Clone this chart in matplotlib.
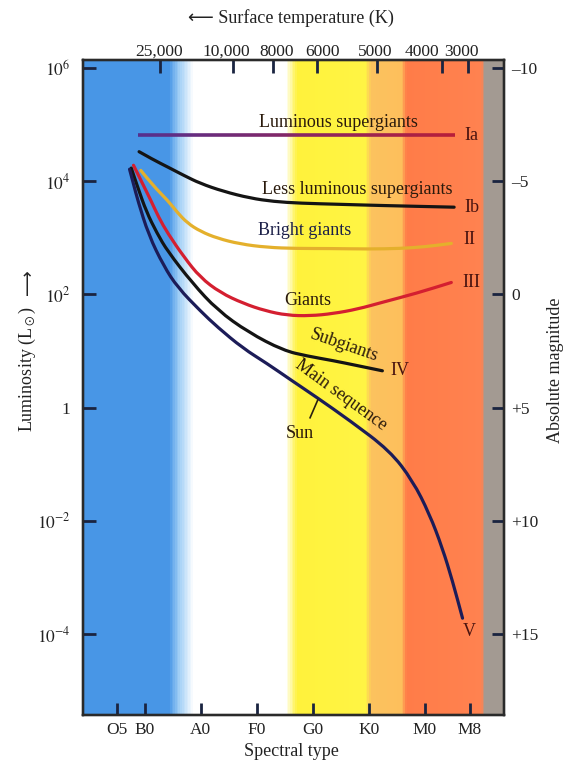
import numpy as np
import matplotlib.pyplot as plt
from matplotlib.colors import LinearSegmentedColormap, to_rgb
from matplotlib.collections import LineCollection
from matplotlib.patches import PathPatch
from matplotlib.path import Path
from matplotlib.ticker import NullLocator

plt.rcParams['font.family'] = ['Liberation Serif', 'DejaVu Sans']
plt.rcParams['mathtext.fontset'] = 'stix'

# spectral type axis: B0=1, A0=2, ... M0=6
spec_pos = [0.5, 1, 2, 3, 4, 5, 6, 6.8]
spec_labels = ['O5', 'B0', 'A0', 'F0', 'G0', 'K0', 'M0', 'M8']
temp_pos = [1.27, 2.58, 3.28, 4.08, 5.15, 6.31, 6.76]
temp_label_pos = [1.25, 2.46, 3.35, 4.18, 5.12, 5.94, 6.65]
temp_labels = ['25,000', '10,000', '8000', '6000', '5000', '4000', '3000']

lum_ticks = [1e6, 1e4, 1e2, 1, 1e-2, 1e-4]
lum_labels = ['$10^6$', '$10^4$', '$10^2$', '1', '$10^{-2}$', '$10^{-4}$']
mag_ticks = [-10, -5, 0, 5, 10, 15]
mag_labels = ['\u201310', '\u20135', '0', '+5', '+10', '+15']

# background colour stops along the spectral axis
band_x = [-0.1, 1.43, 1.62, 1.87, 3.52, 3.72, 4.95, 5.04, 5.60, 5.68, 7.02, 7.08, 7.41]
band_colors = ['#4896e6', '#4896e6', '#a6d2f6', '#ffffff', '#ffffff', '#fff23c',
               '#fff444', '#fcc25e', '#fdbf5c', '#ff7c48', '#ff8250', '#a39a92', '#a39a92']

# luminosity classes (x = spectral position, y = log10 L)
ia_x = [0.88, 6.53]
ia_logL = [4.82, 4.82]
ib_x = [0.90, 1.15, 1.41, 1.70, 1.99, 2.40, 2.88, 3.30, 3.77, 4.5, 5.19, 6.52]
ib_logL = [4.52, 4.38, 4.25, 4.10, 3.96, 3.82, 3.70, 3.64, 3.61, 3.59, 3.57, 3.54]
ii_x = [0.93, 1.15, 1.41, 1.58, 1.76, 2.0, 2.30, 2.7, 3.18, 3.7, 4.30, 5.0, 5.55, 6.0, 6.47]
ii_logL = [4.19, 3.92, 3.66, 3.45, 3.26, 3.11, 2.99, 2.89, 2.83, 2.81, 2.81, 2.80, 2.81, 2.84, 2.90]
iii_x = [0.80, 0.95, 1.11, 1.25, 1.41, 1.70, 1.99, 2.35, 2.76, 3.15, 3.54, 3.95, 4.36, 4.8, 5.24, 5.85, 6.47]
iii_logL = [4.28, 3.98, 3.66, 3.36, 3.08, 2.66, 2.30, 2.03, 1.84, 1.71, 1.63, 1.62, 1.66, 1.74, 1.86, 2.02, 2.21]
iv_x = [0.76, 0.88, 1.03, 1.22, 1.41, 1.85, 2.30, 2.85, 3.47, 3.9, 4.36, 4.8, 5.24]
iv_logL = [4.23, 3.88, 3.46, 3.08, 2.76, 2.20, 1.72, 1.33, 1.01, 0.91, 0.83, 0.74, 0.65]
v_x = [0.73, 0.80, 0.88, 1.07, 1.34, 1.59, 2.0, 2.30, 2.75, 3.18, 3.62, 4.07, 4.66, 5.37,
       5.78, 6.08, 6.31, 6.49, 6.67]
v_logL = [4.21, 3.95, 3.65, 3.05, 2.50, 2.12, 1.70, 1.42, 1.05, 0.78, 0.48, 0.18, -0.23, -0.76,
          -1.29, -1.88, -2.48, -3.06, -3.72]
sun_x = [4.09, 3.95]
sun_logL = [0.14, -0.18]

xmin, xmax = -0.1, 7.41
lmin, lmax = -5.43, 6.14


def smooth_curve(ax, xs, logs, color, lw, z=3):
    # quadratic Bezier through the midpoints, read points act as control points
    verts = [(xs[0], 10**logs[0])]
    codes = [Path.MOVETO]
    for i in range(1, len(xs) - 1):
        mx = (xs[i] + xs[i + 1]) / 2
        ml = (logs[i] + logs[i + 1]) / 2
        verts += [(xs[i], 10**logs[i]), (mx, 10**ml)]
        codes += [Path.CURVE3, Path.CURVE3]
    verts.append((xs[-1], 10**logs[-1]))
    codes.append(Path.LINETO)
    ax.add_patch(PathPatch(Path(verts, codes), fill=False, edgecolor=color, lw=lw,
                           capstyle='round', joinstyle='round', zorder=z))


fig = plt.figure(figsize=(5.79, 7.68), dpi=100)
ax = fig.add_axes([0.1434, 0.069, 0.7271, 0.8529])
ax.set_yscale('log')
ax.set_xlim(xmin, xmax)
ax.set_ylim(10**lmin, 10**lmax)

# coloured background
stops = [(v - xmin) / (xmax - xmin) for v in band_x]
cmap = LinearSegmentedColormap.from_list('bands', list(zip(stops, band_colors)))
edges = np.linspace(xmin, xmax, 700)
mid = (edges[:-1] + edges[1:]) / 2
ax.pcolormesh(edges, [10**lmin, 10**lmax], mid[None, :], cmap=cmap,
              vmin=xmin, vmax=xmax, shading='flat', zorder=0)

# Ia line with purple-to-red gradient
seg_x = np.linspace(ia_x[0], ia_x[1], 60)
pts = np.column_stack([seg_x, np.full_like(seg_x, 10**ia_logL[0])])
segs = np.stack([pts[:-1], pts[1:]], axis=1)
c0, c1 = np.array(to_rgb('#55308e')), np.array(to_rgb('#b81e3a'))
t = np.linspace(0, 1, len(segs))[:, None]
ax.add_collection(LineCollection(segs, colors=c0 * (1 - t) + c1 * t, linewidths=2.6, zorder=3))

lw = 2.3
smooth_curve(ax, ib_x, ib_logL, '#141414', lw)
smooth_curve(ax, ii_x, ii_logL, '#e4b02c', lw)
smooth_curve(ax, iii_x, iii_logL, '#d41f30', lw)
smooth_curve(ax, iv_x, iv_logL, '#141414', lw)
smooth_curve(ax, v_x, v_logL, '#1c1c58', lw, z=4)
ax.plot(sun_x, 10**np.array(sun_logL), color='#2a2010', lw=1.2, zorder=4)

tc = '#2a1a0c'
fs = 13
ax.text(4.46, 10**5.03, 'Luminous supergiants', fontsize=fs, color=tc, ha='center', va='center')
ax.text(4.79, 10**3.86, 'Less luminous supergiants', fontsize=fs, color=tc, ha='center', va='center')
ax.text(3.86, 10**3.12, 'Bright giants', fontsize=fs, color='#1c2048', ha='center', va='center')
ax.text(3.90, 10**1.90, 'Giants', fontsize=fs, color=tc, ha='center', va='center')
ax.text(4.56, 10**1.10, 'Subgiants', fontsize=fs, color=tc, ha='center', va='center', rotation=-19)
ax.text(4.50, 10**0.22, 'Main sequence', fontsize=fs, color=tc, ha='center', va='center', rotation=-36)
ax.text(3.77, 10**-0.46, 'Sun', fontsize=fs, color=tc, ha='center', va='center')

rc = '#4a1410'
for lab, xx, ll in [('Ia', 6.83, 4.81), ('Ib', 6.83, 3.54), ('II', 6.79, 2.97),
                    ('III', 6.83, 2.21), ('IV', 5.56, 0.65), ('V', 6.79, -3.95)]:
    ax.text(xx, 10**ll, lab, fontsize=fs, color=rc, ha='center', va='center')

tick_kw = dict(direction='in', length=9, width=2, color='#1a2440', labelsize=12.5,
               labelcolor='#222222')
ax.set_yticks(lum_ticks)
ax.set_yticklabels(lum_labels)
ax.yaxis.set_minor_locator(NullLocator())
ax.set_xticks(spec_pos)
ax.set_xticklabels(spec_labels)
ax.tick_params(axis='y', pad=9, **tick_kw)
ax.tick_params(axis='x', pad=5, **tick_kw)

axt = ax.twiny()
axt.set_xlim(xmin, xmax)
axt.set_xticks(temp_pos)
axt.set_xticklabels([])
axt.tick_params(axis='x', **tick_kw)
for p, lab in zip(temp_label_pos, temp_labels):
    axt.text(p, 1.0, lab, transform=axt.get_xaxis_transform(), fontsize=12.5,
             color='#222222', ha='center', va='bottom')

axr = ax.twinx()
axr.set_ylim(5 - 2.5 * lmin, 5 - 2.5 * lmax)
axr.set_yticks(mag_ticks)
axr.set_yticklabels(mag_labels)
axr.tick_params(axis='y', pad=5, **tick_kw)

for a in (ax, axt, axr):
    for s in a.spines.values():
        s.set_linewidth(1.6)
        s.set_color('#2a2a2a')

lab_kw = dict(fontsize=13, color='#222222', ha='center', va='center')
fig.text(0.502, 0.977, '\u27f5 Surface temperature (K)', **lab_kw)
fig.text(0.503, 0.021, 'Spectral type', **lab_kw)
fig.text(0.959, 0.518, 'Absolute magnitude', rotation=90, **lab_kw)
fig.text(0.048, 0.52, 'Luminosity (L$_\\odot$)', rotation=90, **lab_kw)
fig.text(0.048, 0.633, '\u27f6', rotation=90, family='DejaVu Sans', **lab_kw)

fig.savefig('out.png', dpi=100)
